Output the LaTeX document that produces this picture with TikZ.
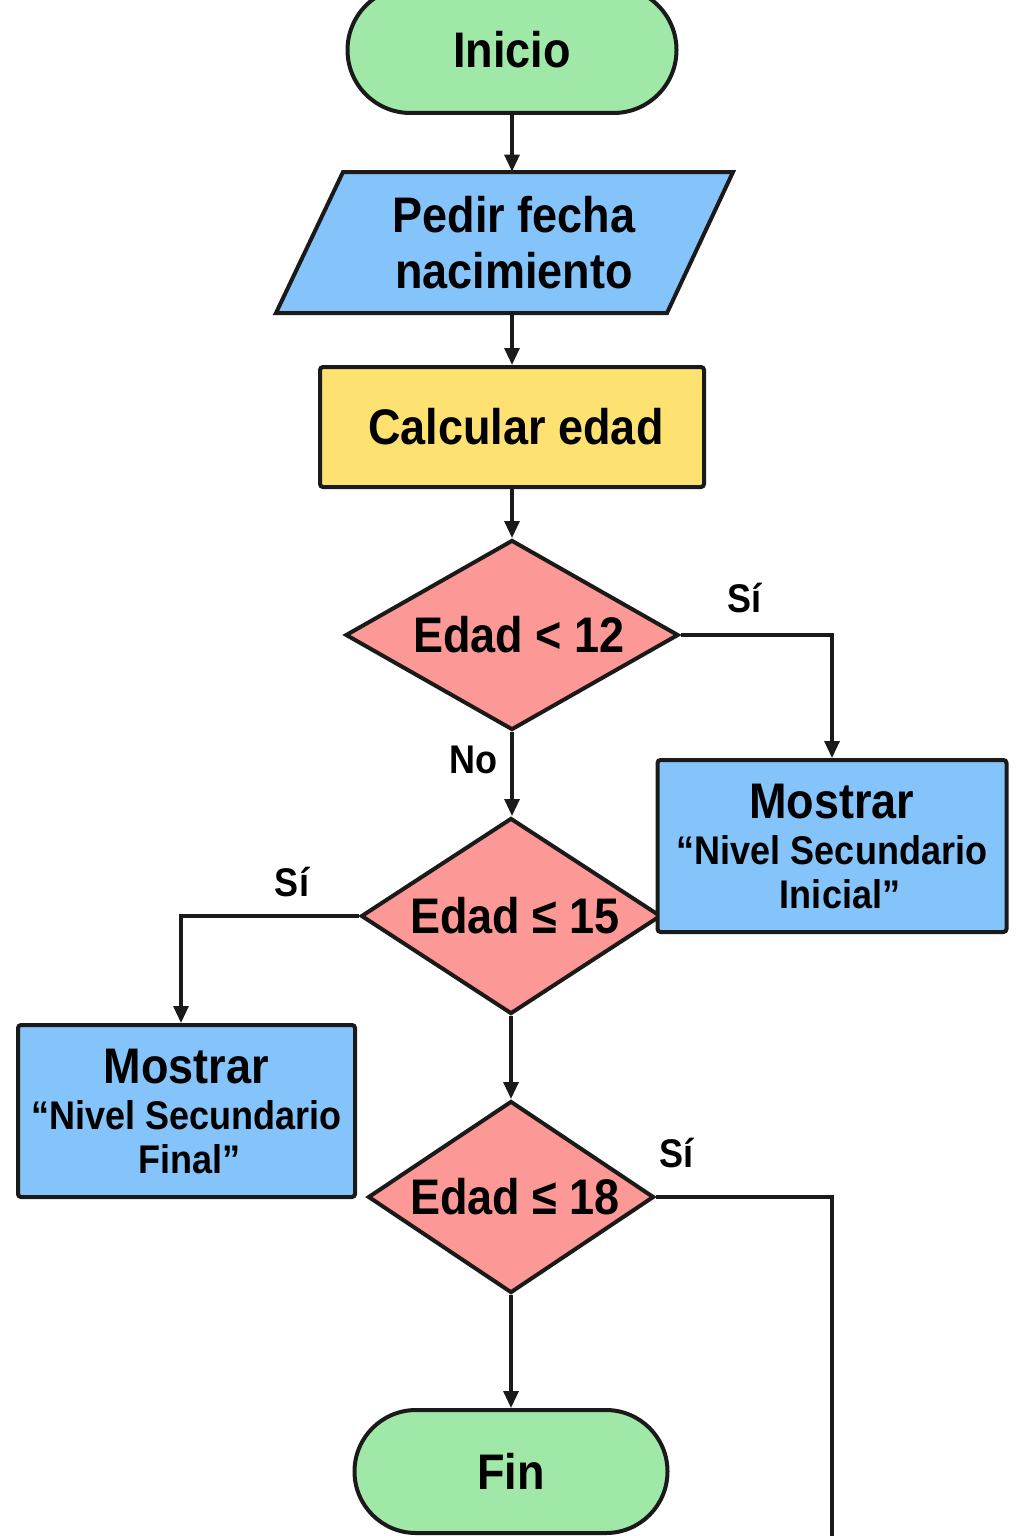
\documentclass[tikz,border=0pt]{standalone}
\usepackage{fontspec}
\setmainfont[FakeStretch=0.9]{Liberation Sans}
\usetikzlibrary{shapes.geometric,arrows.meta}
\definecolor{cgreen}{HTML}{A0E8A8}
\definecolor{cblue}{HTML}{85C4FA}
\definecolor{cyellow}{HTML}{FDE272}
\definecolor{cpink}{HTML}{FC9896}
\definecolor{cline}{HTML}{1A1A1A}
\begin{document}
\begin{tikzpicture}[x=0.5pt,y=-0.5pt,
  shapeline/.style={draw=cline,line width=2pt},
  bigtext/.style={font=\fontsize{25}{28}\selectfont\bfseries},
  terminal/.style={shapeline,fill=cgreen,rectangle,inner sep=0pt,bigtext},
  procbox/.style={shapeline,fill=cyellow,rectangle,rounded corners=1.5pt,inner sep=0pt,bigtext},
  outbox/.style={shapeline,fill=cblue,rectangle,rounded corners=1.5pt,inner sep=0pt,align=center,font=\fontsize{20}{22}\selectfont\bfseries},
  decision/.style={shapeline,fill=cpink,diamond,inner sep=0pt,bigtext},
  lbl/.style={font=\fontsize{20}{24}\selectfont\bfseries,inner sep=0pt},
  conn/.style={draw=cline,line width=1.6pt,-{Triangle[width=7.5pt,length=8.5pt]}},
  plainline/.style={draw=cline,line width=1.6pt}]
\useasboundingbox[fill=white] (0,0) rectangle (1024,1536);

% Inicio
\node[terminal,minimum width=164.5pt,minimum height=63pt,rounded corners=31.5pt] (inicio) at (512,50) {Inicio};

% Parallelogram
\filldraw[shapeline,fill=cblue] (343,172) -- (733,172) -- (667,313) -- (276,313) -- cycle;
\node[bigtext,align=center,minimum width=195pt,minimum height=70.5pt,inner sep=0pt] (pedir) at (514,242.5) {Pedir fecha\\nacimiento};

% Calcular
\node[procbox,minimum width=192pt,minimum height=60pt] (calc) at (512,427) {\hspace{4pt}Calcular edad};

% Decisions
\node[decision,minimum width=166.5pt,minimum height=95pt] (d1) at (512,635) {\makebox[0pt]{\hspace{7pt}Edad < 12}};
\node[decision,minimum width=150pt,minimum height=98pt] (d2) at (511,916) {\makebox[0pt]{\hspace{4pt}Edad ≤ 15}};
\node[decision,minimum width=143pt,minimum height=96pt] (d3) at (511,1197) {\makebox[0pt]{\hspace{4pt}Edad ≤ 18}};

% Output boxes
\node[outbox,minimum width=174.5pt,minimum height=86pt] (box1) at (832,846) {{\fontsize{25}{28}\selectfont Mostrar}\\[1pt]“Nivel Secundario\\\hspace{8pt}Inicial”};
\node[outbox,minimum width=168.5pt,minimum height=86pt] (box2) at (186.5,1111) {{\fontsize{25}{28}\selectfont Mostrar}\\[1pt]“Nivel Secundario\\\hspace{3pt}Final”};

% Fin
\node[terminal,minimum width=156.5pt,minimum height=61.5pt,rounded corners=30.75pt] (fin) at (511,1471.5) {Fin};

\coordinate (offpage) at (832,1545);

% Connectors
\draw[conn] (inicio.south) -- (inicio.south |- pedir.north);
\draw[conn] (inicio.south |- pedir.south) -- (calc.north);
\draw[conn] (calc.south) -- (d1.north);
\draw[conn] (d1.east) -| (box1.north);
\draw[conn] (d1.south) -- (d1.south |- d2.north);
\draw[conn] (d2.west) -| ([xshift=-2.75pt]box2.north);
\draw[conn] (d2.south) -- (d3.north);
\draw[plainline] (d3.east) -| (offpage);
\draw[conn] (d3.south) -- (fin.north);

% Labels
\node[lbl] (l1) at (744,598) {Sí};
\node[lbl] (l2) at (473,760) {No};
\node[lbl] (l3) at (292,882) {Sí};
\node[lbl] (l4) at (676,1153) {Sí};
\end{tikzpicture}
\end{document}
